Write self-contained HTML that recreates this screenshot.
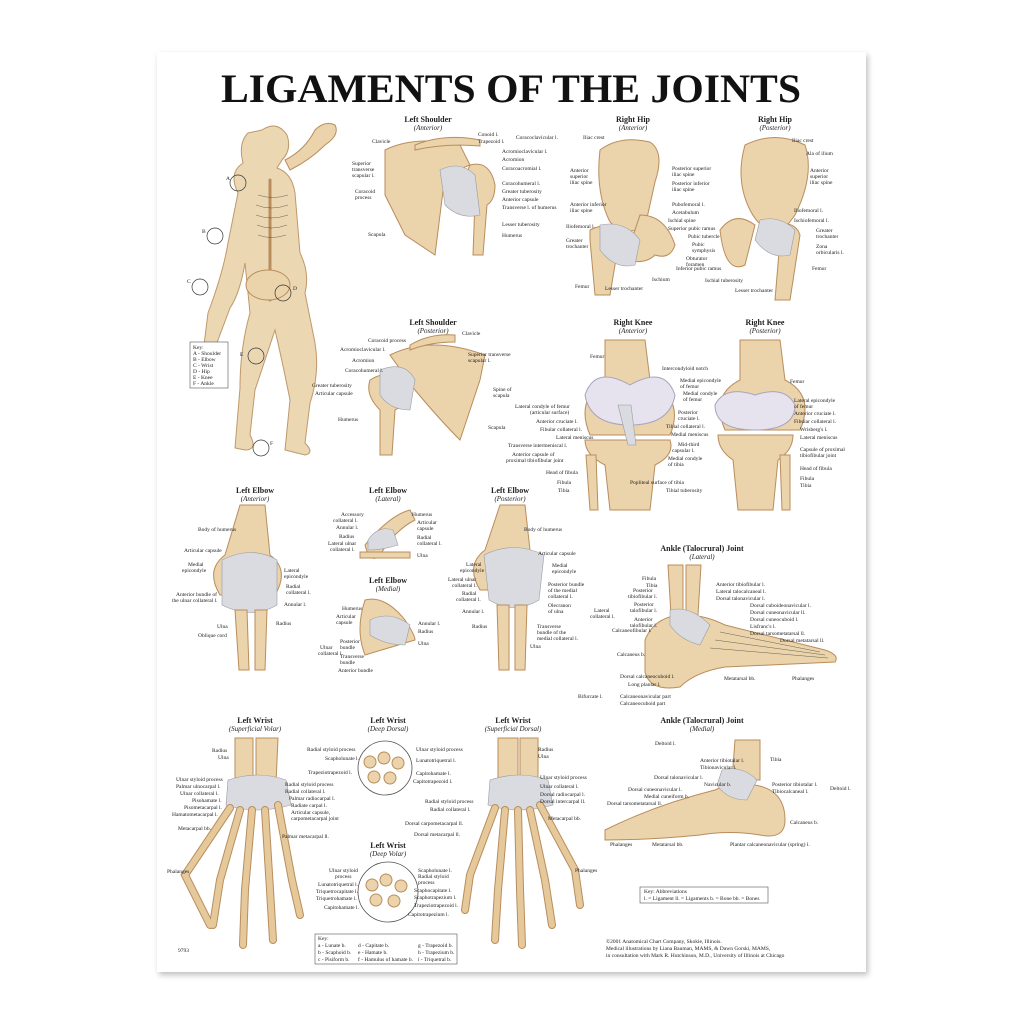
<!DOCTYPE html>
<html><head><meta charset="utf-8"><style>
html,body{margin:0;padding:0;background:#fff;}
svg{display:block}
text{font-family:"Liberation Serif",serif;fill:#222}
.h{font-weight:bold;font-size:8px;text-anchor:middle}
.s{font-style:italic;font-size:7px;text-anchor:middle}
.l{font-size:5.5px}
.b{fill:#ebd3ab;stroke:#b98d5c;stroke-width:1}
.g{fill:#d9dbe0;stroke:#9a9ca4;stroke-width:.6}
.ln{stroke:#444;stroke-width:.4;fill:none}
.f{stroke:#e6c99b;stroke-linecap:round;fill:none}
.fo{stroke:#b98d5c;stroke-linecap:round;fill:none}
</style></head><body>
<svg width="1024" height="1024" viewBox="0 0 1024 1024">
<defs><filter id="sh" x="-5%" y="-5%" width="110%" height="110%"><feDropShadow dx="2" dy="3" stdDeviation="3" flood-color="#000" flood-opacity=".25"/></filter></defs>
<rect x="157" y="52" width="709" height="920" fill="#fff" filter="url(#sh)"/>
<text x="511" y="102" text-anchor="middle" font-size="40" font-weight="bold" textLength="580" lengthAdjust="spacingAndGlyphs" style="fill:#111">LIGAMENTS OF THE JOINTS</text>

<!-- skeleton figure -->
<g>
<path class="b" d="M262 130 q15-10 25 5 q5 15-5 25 l-5 8 q15 5 18 25 l5 60 q10 20 5 40 l10 50 q5 30 -5 60 l-5 40 q10 10 0 12 l-20 -5 l5-50 q-8-40 -15-70 q-10 30-20 60 l-5 45 q8 15-5 15 l-10-2 l5-60 q0-40 10-75 l-5-50 q-5 30-15 45 l-15 40 q-5 15-12 5 l5-40 q15-40 20-70 l10-50 q-10-20 5-30 q-5-20 5-30z" opacity=".9"/>
<path class="fo" stroke-width="3" d="M270 180 L270 300" stroke="#c49a63"/>
<path class="ln" d="M258 195 q15 5 30 0 M256 205 q15 6 32 0 M256 215 q15 6 32 0 M257 225 q14 6 30 0 M258 235 q13 5 28 0"/>
<ellipse class="b" cx="268" cy="285" rx="22" ry="15"/>
<path class="b" d="M285 160 q20-10 30-30 q10-10 20-5 q5 10-10 20 q-15 15-35 25z"/>
<circle cx="238" cy="183" r="8" fill="none" stroke="#333" stroke-width=".7"/><text x="226" y="180" class="l">A</text>
<circle cx="215" cy="236" r="8" fill="none" stroke="#333" stroke-width=".7"/><text x="202" y="233" class="l">B</text>
<circle cx="200" cy="287" r="8" fill="none" stroke="#333" stroke-width=".7"/><text x="187" y="283" class="l">C</text>
<circle cx="283" cy="293" r="8" fill="none" stroke="#333" stroke-width=".7"/><text x="293" y="290" class="l">D</text>
<circle cx="256" cy="356" r="8" fill="none" stroke="#333" stroke-width=".7"/><text x="240" y="356" class="l">E</text>
<circle cx="261" cy="448" r="8" fill="none" stroke="#333" stroke-width=".7"/><text x="270" y="445" class="l">F</text>
<rect x="190" y="342" width="38" height="46" fill="#fff" stroke="#333" stroke-width=".5"/>
<text x="193" y="349" class="l" font-size="4.5">Key:</text>
<text x="193" y="355" class="l" font-size="4">A - Shoulder</text><text x="193" y="361" class="l" font-size="4">B - Elbow</text><text x="193" y="367" class="l" font-size="4">C - Wrist</text><text x="193" y="373" class="l" font-size="4">D - Hip</text><text x="193" y="379" class="l" font-size="4">E - Knee</text><text x="193" y="385" class="l" font-size="4">F - Ankle</text>
</g>

<!-- Left shoulder anterior -->
<text x="428" y="122" class="h">Left Shoulder</text><text x="428" y="130" class="s">(Anterior)</text>
<path class="b" d="M385 150 q30-15 75-5 l10 20 l-25 10 l-10 80 l-30-20 l-20 -40z"/>
<path class="b" d="M470 165 q20-5 25 20 q0 15-8 20 l-4 50 h-10 l2-55 q-15-15-5-35z"/>
<path class="g" d="M440 170 q20-10 35 5 l5 40 q-20 5-35-10z"/>
<path class="b" d="M415 145 q30-12 65-5 l0 6 q-35 -3 -65 4z"/>
<text x="372" y="143" class="l">Clavicle</text><text x="352" y="165" class="l">Superior</text><text x="352" y="171" class="l">transverse</text><text x="352" y="177" class="l">scapular l.</text>
<text x="355" y="193" class="l">Coracoid</text><text x="355" y="199" class="l">process</text><text x="368" y="236" class="l">Scapula</text>
<text x="478" y="136" class="l">Conoid l.</text><text x="478" y="143" class="l">Trapezoid l.</text><text x="516" y="139" class="l">Coracoclavicular l.</text>
<text x="502" y="153" class="l">Acromioclavicular l.</text><text x="502" y="161" class="l">Acromion</text><text x="502" y="170" class="l">Coracoacromial l.</text>
<text x="502" y="185" class="l">Coracohumeral l.</text><text x="502" y="193" class="l">Greater tuberosity</text><text x="502" y="201" class="l">Anterior capsule</text><text x="502" y="209" class="l">Transverse l. of humerus</text>
<text x="502" y="226" class="l">Lesser tuberosity</text><text x="502" y="237" class="l">Humerus</text>

<!-- Right Hip anterior -->
<text x="633" y="122" class="h">Right Hip</text><text x="633" y="130" class="s">(Anterior)</text>
<path class="b" d="M600 150 q20-15 50-8 q15 10 5 40 l-10 45 q-20 10-35-5 q-15-30-10-72z"/>
<path class="b" d="M640 215 q25 0 35 30 q-5 15-20 10 q-10 10-30 5z"/>
<path class="b" d="M590 230 q20-10 30 5 l-10 60 l-15 0 l-5-55z"/>
<path class="g" d="M600 225 q25-5 40 15 l-5 25 q-20 5-35-15z"/>
<text x="583" y="139" class="l">Iliac crest</text><text x="570" y="172" class="l">Anterior</text><text x="570" y="178" class="l">superior</text><text x="570" y="184" class="l">iliac spine</text>
<text x="570" y="206" class="l">Anterior inferior</text><text x="570" y="212" class="l">iliac spine</text><text x="566" y="228" class="l">Iliofemoral l.</text>
<text x="566" y="242" class="l">Greater</text><text x="566" y="248" class="l">trochanter</text><text x="575" y="288" class="l">Femur</text><text x="605" y="290" class="l">Lesser trochanter</text>
<text x="672" y="170" class="l">Posterior superior</text><text x="672" y="176" class="l">iliac spine</text><text x="672" y="185" class="l">Posterior inferior</text><text x="672" y="191" class="l">iliac spine</text>
<text x="672" y="206" class="l">Pubofemoral l.</text><text x="672" y="214" class="l">Acetabulum</text><text x="668" y="222" class="l">Ischial spine</text><text x="668" y="230" class="l">Superior pubic ramus</text>
<text x="688" y="238" class="l">Pubic tubercle</text><text x="692" y="246" class="l">Pubic</text><text x="692" y="252" class="l">symphysis</text><text x="686" y="260" class="l">Obturator</text><text x="686" y="266" class="l">foramen</text>
<text x="676" y="270" class="l">Inferior pubic ramus</text><text x="652" y="281" class="l">Ischium</text>

<!-- Right Hip posterior -->
<text x="775" y="122" class="h">Right Hip</text><text x="775" y="130" class="s">(Posterior)</text>
<path class="b" d="M745 145 q30-15 60 0 q10 30-10 70 l-15 20 q-20 -5 -30-25 q-15-30-5-65z"/>
<path class="b" d="M720 230 q15-20 35-5 l-10 40 q-20 10-25-35z"/>
<path class="b" d="M775 225 q20-5 25 10 l-10 65 h-15 l5-60z"/>
<path class="g" d="M760 220 q20-5 35 10 l-5 25 q-20 5-35-15z"/>
<text x="792" y="142" class="l">Iliac crest</text><text x="806" y="155" class="l">Ala of ilium</text><text x="810" y="172" class="l">Anterior</text><text x="810" y="178" class="l">superior</text><text x="810" y="184" class="l">iliac spine</text>
<text x="794" y="212" class="l">Iliofemoral l.</text><text x="794" y="222" class="l">Ischiofemoral l.</text><text x="816" y="232" class="l">Greater</text><text x="816" y="238" class="l">trochanter</text>
<text x="816" y="248" class="l">Zona</text><text x="816" y="254" class="l">orbicularis l.</text><text x="812" y="270" class="l">Femur</text>
<text x="705" y="282" class="l">Ischial tuberosity</text><text x="735" y="292" class="l">Lesser trochanter</text>

<!-- Left Shoulder posterior -->
<text x="433" y="325" class="h">Left Shoulder</text><text x="433" y="333" class="s">(Posterior)</text>
<path class="b" d="M390 355 q40-20 95 0 l-5 25 q-10 30-20 60 q-20-20-45-50z"/>
<path class="b" d="M370 380 q25-15 35 10 q0 15-10 20 l-3 45 h-12 l0-45 q-15-15-10-30z"/>
<path class="g" d="M380 370 q25-10 35 10 l-5 30 q-20 0-30-15z"/>
<path class="b" d="M410 345 q20-12 45-10 l0 7 q-25 0-45 8z"/>
<text x="368" y="342" class="l">Coracoid process</text><text x="340" y="351" class="l">Acromioclavicular l.</text><text x="352" y="362" class="l">Acromion</text><text x="345" y="372" class="l">Coracohumeral l.</text>
<text x="312" y="387" class="l">Greater tuberosity</text><text x="315" y="395" class="l">Articular capsule</text><text x="338" y="421" class="l">Humerus</text>
<text x="462" y="335" class="l">Clavicle</text><text x="468" y="356" class="l">Superior transverse</text><text x="468" y="362" class="l">scapular l.</text>
<text x="493" y="391" class="l">Spine of</text><text x="493" y="397" class="l">scapula</text><text x="488" y="429" class="l">Scapula</text>

<!-- Right Knee anterior -->
<text x="633" y="325" class="h">Right Knee</text><text x="633" y="333" class="s">(Anterior)</text>
<path class="b" d="M605 340 h40 l5 40 q35 20 20 55 l-80 0 q-15-35 15-55z"/>
<path d="M585 395 q10-30 45-10 q35-20 45 10 q-5 30-45 30 q-40 0-45-30z" fill="#e6e3ee" stroke="#a9a4bc"/>
<path class="b" d="M585 440 h85 q5 15-15 25 l-5 45 h-40 l-5-45 q-20-10-20-25z"/>
<path class="b" d="M586 455 h10 l2 55 h-8z"/>
<path class="g" d="M618 405 l10 40 h8 l-5-40z"/>
<text x="590" y="358" class="l">Femur</text><text x="515" y="408" class="l">Lateral condyle of femur</text><text x="530" y="414" class="l">(articular surface)</text>
<text x="536" y="423" class="l">Anterior cruciate l.</text><text x="540" y="431" class="l">Fibular collateral l.</text><text x="556" y="439" class="l">Lateral meniscus</text>
<text x="508" y="447" class="l">Transverse intermeniscal l.</text><text x="512" y="456" class="l">Anterior capsule of</text><text x="506" y="462" class="l">proximal tibiofibular joint</text>
<text x="546" y="474" class="l">Head of fibula</text><text x="557" y="484" class="l">Fibula</text><text x="558" y="492" class="l">Tibia</text>
<text x="662" y="370" class="l">Intercondyloid notch</text><text x="680" y="382" class="l">Medial epicondyle</text><text x="680" y="388" class="l">of femur</text><text x="683" y="395" class="l">Medial condyle</text><text x="683" y="401" class="l">of femur</text>
<text x="678" y="414" class="l">Posterior</text><text x="678" y="420" class="l">cruciate l.</text><text x="666" y="428" class="l">Tibial collateral l.</text><text x="671" y="436" class="l">Medial meniscus</text>
<text x="678" y="446" class="l">Mid-third</text><text x="672" y="452" class="l">capsular l.</text><text x="668" y="460" class="l">Medial condyle</text><text x="668" y="466" class="l">of tibia</text>
<text x="630" y="484" class="l">Popliteal surface of tibia</text><text x="666" y="492" class="l">Tibial tuberosity</text>

<!-- Right Knee posterior -->
<text x="765" y="325" class="h">Right Knee</text><text x="765" y="333" class="s">(Posterior)</text>
<path class="b" d="M740 340 h40 l5 40 q30 15 15 50 h-75 q-15-35 15-50z"/>
<path d="M715 405 q10-20 40-10 q30-10 40 10 q0 25-40 25 q-40 0-40-25z" fill="#e6e3ee" stroke="#a9a4bc"/>
<path class="b" d="M718 435 h75 q0 15-15 25 l-5 50 h-35 l-5-50 q-15-10-15-25z"/>
<path class="b" d="M780 455 h10 l0 55 h-8z"/>
<text x="790" y="383" class="l">Femur</text><text x="794" y="402" class="l">Lateral epicondyle</text><text x="794" y="408" class="l">of femur</text><text x="794" y="415" class="l">Anterior cruciate l.</text>
<text x="794" y="423" class="l">Fibular collateral l.</text><text x="800" y="431" class="l">Wrisberg's l.</text><text x="800" y="439" class="l">Lateral meniscus</text>
<text x="800" y="451" class="l">Capsule of proximal</text><text x="800" y="457" class="l">tibiofibular joint</text><text x="800" y="470" class="l">Head of fibula</text><text x="800" y="480" class="l">Fibula</text><text x="800" y="487" class="l">Tibia</text>

<!-- Left Elbow anterior -->
<text x="255" y="493" class="h">Left Elbow</text><text x="255" y="501" class="s">(Anterior)</text>
<path class="b" d="M240 505 h25 l5 50 q20 15 5 40 h-55 q-15-25 5-40z"/>
<path class="g" d="M222 560 q30-15 55 0 l0 45 q-25 15-55 0z"/>
<path class="b" d="M235 610 h12 l2 60 h-10z M255 610 h12 l-2 60 h-10z"/>
<text x="198" y="531" class="l">Body of humerus</text><text x="184" y="552" class="l">Articular capsule</text><text x="188" y="566" class="l">Medial</text><text x="182" y="572" class="l">epicondyle</text>
<text x="176" y="596" class="l">Anterior bundle of</text><text x="172" y="602" class="l">the ulnar collateral l.</text><text x="217" y="628" class="l">Ulna</text><text x="198" y="637" class="l">Oblique cord</text>
<text x="284" y="572" class="l">Lateral</text><text x="284" y="578" class="l">epicondyle</text><text x="286" y="588" class="l">Radial</text><text x="286" y="594" class="l">collateral l.</text><text x="284" y="606" class="l">Annular l.</text><text x="276" y="625" class="l">Radius</text>

<!-- Left Elbow lateral -->
<text x="388" y="493" class="h">Left Elbow</text><text x="388" y="501" class="s">(Lateral)</text>
<path class="b" d="M365 545 q25-30 45-35 l5 10 q-20 10-35 35 q-10 10-15-10z"/>
<path class="g" d="M368 540 q10-15 25-10 l5 15 q-15 5-30 5z"/>
<path class="b" d="M360 552 h50 v6 h-50z"/>
<text x="341" y="516" class="l">Accessory</text><text x="333" y="522" class="l">collateral l.</text><text x="336" y="529" class="l">Annular l.</text><text x="339" y="538" class="l">Radius</text>
<text x="328" y="545" class="l">Lateral ulnar</text><text x="330" y="551" class="l">collateral l.</text>
<text x="412" y="516" class="l">Humerus</text><text x="417" y="524" class="l">Articular</text><text x="417" y="530" class="l">capsule</text><text x="417" y="539" class="l">Radial</text><text x="417" y="545" class="l">collateral l.</text><text x="417" y="557" class="l">Ulna</text>

<!-- Left Elbow medial -->
<text x="388" y="583" class="h">Left Elbow</text><text x="388" y="591" class="s">(Medial)</text>
<path class="b" d="M365 600 q20-5 40 20 q10 15 10 20 l-50 15 q-10-25 0-55z"/>
<path class="g" d="M370 620 q20-10 40 5 l-5 20 q-20 0-35-10z"/>
<text x="342" y="610" class="l">Humerus</text><text x="336" y="618" class="l">Articular</text><text x="336" y="624" class="l">capsule</text>
<text x="320" y="649" class="l">Ulnar</text><text x="318" y="655" class="l">collateral l.</text><text x="340" y="643" class="l">Posterior</text><text x="340" y="649" class="l">bundle</text>
<text x="340" y="658" class="l">Transverse</text><text x="340" y="664" class="l">bundle</text><text x="338" y="672" class="l">Anterior bundle</text>
<text x="418" y="625" class="l">Annular l.</text><text x="418" y="633" class="l">Radius</text><text x="418" y="645" class="l">Ulna</text>

<!-- Left Elbow posterior -->
<text x="510" y="493" class="h">Left Elbow</text><text x="510" y="501" class="s">(Posterior)</text>
<path class="b" d="M500 505 h25 l5 45 q20 15 5 40 h-55 q-15-25 5-40z"/>
<path class="g" d="M484 555 q30-15 60 0 l-5 45 q-25 15-50 0z"/>
<path class="b" d="M497 605 h12 l0 65 h-10z M515 605 h12 l-2 65 h-10z"/>
<text x="524" y="531" class="l">Body of humerus</text><text x="538" y="555" class="l">Articular capsule</text><text x="552" y="567" class="l">Medial</text><text x="552" y="573" class="l">epicondyle</text>
<text x="548" y="586" class="l">Posterior bundle</text><text x="548" y="592" class="l">of the medial</text><text x="548" y="598" class="l">collateral l.</text><text x="548" y="607" class="l">Olecranon</text><text x="548" y="613" class="l">of ulna</text>
<text x="537" y="628" class="l">Transverse</text><text x="537" y="634" class="l">bundle of the</text><text x="537" y="640" class="l">medial collateral l.</text><text x="530" y="648" class="l">Ulna</text>
<text x="466" y="566" class="l">Lateral</text><text x="460" y="572" class="l">epicondyle</text><text x="448" y="581" class="l">Lateral ulnar</text><text x="452" y="587" class="l">collateral l.</text>
<text x="462" y="595" class="l">Radial</text><text x="456" y="601" class="l">collateral l.</text><text x="462" y="613" class="l">Annular l.</text><text x="472" y="628" class="l">Radius</text>

<!-- Ankle lateral -->
<text x="702" y="551" class="h">Ankle (Talocrural) Joint</text><text x="702" y="559" class="s">(Lateral)</text>
<path class="b" d="M668 565 h15 l0 50 h-12z M686 565 h15 l-3 50 h-12z"/>
<path class="b" d="M645 640 q10-25 40-25 q20 0 40 10 l100 25 q15 5 10 12 l-110 5 q-30 5-45 20 q-30 5-35-15 z"/>
<path class="g" d="M670 610 q20 -5 40 15 l-10 20 q-20-5-30-20z"/>
<path class="ln" d="M720 632 l100 20 M715 640 l110 15 M710 648 l118 10"/>
<text x="642" y="580" class="l">Fibula</text><text x="646" y="587" class="l">Tibia</text><text x="633" y="592" class="l">Posterior</text><text x="628" y="598" class="l">tibiofibular l.</text>
<text x="594" y="612" class="l">Lateral</text><text x="590" y="618" class="l">collateral l.</text><text x="634" y="606" class="l">Posterior</text><text x="630" y="612" class="l">talofibular l.</text>
<text x="634" y="621" class="l">Anterior</text><text x="630" y="627" class="l">talofibular l.</text><text x="612" y="632" class="l">Calcaneofibular l.</text>
<text x="617" y="656" class="l">Calcaneus b.</text><text x="620" y="678" class="l">Dorsal calcaneocuboid l.</text><text x="628" y="686" class="l">Long plantar l.</text>
<text x="578" y="698" class="l">Bifurcate l.</text><text x="620" y="698" class="l">Calcaneonavicular part</text><text x="620" y="705" class="l">Calcaneocuboid part</text>
<text x="716" y="586" class="l">Anterior tibiofibular l.</text><text x="716" y="593" class="l">Lateral talocalcaneal l.</text><text x="716" y="600" class="l">Dorsal talonavicular l.</text>
<text x="750" y="607" class="l">Dorsal cuboideonavicular l.</text><text x="750" y="614" class="l">Dorsal cuneonavicular ll.</text><text x="750" y="621" class="l">Dorsal cuneocuboid l.</text>
<text x="750" y="628" class="l">Lisfranc's l.</text><text x="750" y="635" class="l">Dorsal tarsometatarsal ll.</text><text x="780" y="642" class="l">Dorsal metatarsal ll.</text>
<text x="724" y="680" class="l">Metatarsal bb.</text><text x="792" y="680" class="l">Phalanges</text>

<!-- Ankle medial -->
<text x="702" y="723" class="h">Ankle (Talocrural) Joint</text><text x="702" y="731" class="s">(Medial)</text>
<path class="b" d="M735 740 h25 l0 40 h-28z"/>
<path class="b" d="M605 830 q50-25 110-40 q20-10 40-5 q30 5 30 35 q0 20-25 15 q-30-5-60 0 q-50 5-95 5z"/>
<path class="g" d="M722 770 q20-5 35 10 l-10 20 q-20 0-30-15z"/>
<text x="655" y="745" class="l">Deltoid l.</text><text x="700" y="762" class="l">Anterior tibiotalar l.</text><text x="700" y="769" class="l">Tibionavicular l.</text>
<text x="654" y="779" class="l">Dorsal talonavicular l.</text><text x="704" y="786" class="l">Navicular b.</text><text x="628" y="791" class="l">Dorsal cuneonavicular l.</text>
<text x="644" y="798" class="l">Medial cuneiform b.</text><text x="607" y="805" class="l">Dorsal tarsometatarsal ll.</text>
<text x="770" y="761" class="l">Tibia</text><text x="772" y="786" class="l">Posterior tibiotalar l.</text><text x="772" y="793" class="l">Tibiocalcaneal l.</text><text x="830" y="790" class="l">Deltoid l.</text>
<text x="790" y="824" class="l">Calcaneus b.</text><text x="610" y="846" class="l">Phalanges</text><text x="652" y="846" class="l">Metatarsal bb.</text><text x="730" y="846" class="l">Plantar calcaneonavicular (spring) l.</text>

<!-- Wrist superficial volar -->
<text x="255" y="723" class="h">Left Wrist</text><text x="255" y="731" class="s">(Superficial Volar)</text>
<path class="b" d="M235 738 h18 v45 h-18z M256 738 h22 l-2 45 h-20z"/>
<path class="g" d="M228 780 q30-10 58 0 l5 25 q-35 10-65 0z"/>
<g class="fo" stroke-width="8"><path d="M230 808 L185 875 L210 925"/><path d="M240 810 L220 880 L213 925"/><path d="M252 810 L245 890 L243 945"/><path d="M265 810 L270 890 L273 940"/><path d="M278 805 L292 880 L300 915"/></g>
<g class="f" stroke-width="6"><path d="M230 808 L185 875 L210 925"/><path d="M240 810 L220 880 L213 925"/><path d="M252 810 L245 890 L243 945"/><path d="M265 810 L270 890 L273 940"/><path d="M278 805 L292 880 L300 915"/></g>
<text x="212" y="752" class="l">Radius</text><text x="218" y="759" class="l">Ulna</text><text x="176" y="781" class="l">Ulnar styloid process</text><text x="176" y="788" class="l">Palmar ulnocarpal l.</text>
<text x="180" y="795" class="l">Ulnar collateral l.</text><text x="192" y="802" class="l">Pisohamate l.</text><text x="184" y="809" class="l">Pisometacarpal l.</text><text x="172" y="816" class="l">Hamatometacarpal l.</text>
<text x="178" y="830" class="l">Metacarpal bb.</text><text x="167" y="873" class="l">Phalanges</text>
<text x="285" y="786" class="l">Radial styloid process</text><text x="285" y="793" class="l">Radial collateral l.</text><text x="289" y="800" class="l">Palmar radiocarpal l.</text>
<text x="291" y="807" class="l">Radiate carpal l.</text><text x="291" y="814" class="l">Articular capsule,</text><text x="291" y="820" class="l">carpometacarpal joint</text><text x="282" y="838" class="l">Palmar metacarpal ll.</text>

<!-- Wrist deep dorsal -->
<text x="388" y="723" class="h">Left Wrist</text><text x="388" y="731" class="s">(Deep Dorsal)</text>
<circle cx="385" cy="768" r="27" fill="#fff" stroke="#555" stroke-width=".8"/>
<g class="b"><circle cx="370" cy="762" r="6"/><circle cx="384" cy="758" r="6"/><circle cx="398" cy="763" r="6"/><circle cx="374" cy="777" r="6"/><circle cx="390" cy="778" r="6"/></g>
<text x="307" y="751" class="l">Radial styloid process</text><text x="325" y="760" class="l">Scapholunate l.</text><text x="308" y="774" class="l">Trapeziotrapezoid l.</text>
<text x="416" y="751" class="l">Ulnar styloid process</text><text x="416" y="762" class="l">Lunatotriquetral l.</text><text x="416" y="775" class="l">Capitohamate l.</text><text x="413" y="783" class="l">Capitotrapezoid l.</text>

<!-- Wrist deep volar -->
<text x="388" y="848" class="h">Left Wrist</text><text x="388" y="856" class="s">(Deep Volar)</text>
<circle cx="388" cy="892" r="30" fill="#fff" stroke="#555" stroke-width=".8"/>
<g class="b"><circle cx="372" cy="885" r="6"/><circle cx="386" cy="880" r="6"/><circle cx="401" cy="886" r="6"/><circle cx="376" cy="900" r="6"/><circle cx="394" cy="901" r="6"/></g>
<text x="329" y="872" class="l">Ulnar styloid</text><text x="335" y="878" class="l">process</text><text x="318" y="886" class="l">Lunatotriquetral l.</text>
<text x="316" y="893" class="l">Triquetrocapitate l.</text><text x="316" y="900" class="l">Triquetrohamate l.</text><text x="324" y="909" class="l">Capitohamate l.</text>
<text x="418" y="872" class="l">Scapholunate l.</text><text x="418" y="878" class="l">Radial styloid</text><text x="418" y="884" class="l">process</text>
<text x="414" y="892" class="l">Scaphocapitate l.</text><text x="414" y="899" class="l">Scaphotrapezium l.</text><text x="414" y="907" class="l">Trapeziotrapezoid l.</text><text x="408" y="916" class="l">Capitotrapezium l.</text>

<!-- Wrist superficial dorsal -->
<text x="513" y="723" class="h">Left Wrist</text><text x="513" y="731" class="s">(Superficial Dorsal)</text>
<path class="b" d="M498 738 h20 v45 h-20z M520 738 h18 l0 45 h-18z"/>
<path class="g" d="M490 780 q30-10 58 0 l5 25 q-35 10-65 0z"/>
<g class="fo" stroke-width="8"><path d="M495 808 L470 875 L465 910"/><path d="M505 810 L498 890 L495 940"/><path d="M518 810 L520 890 L522 945"/><path d="M530 810 L545 880 L552 925"/><path d="M540 805 L575 870 L580 905"/></g>
<g class="f" stroke-width="6"><path d="M495 808 L470 875 L465 910"/><path d="M505 810 L498 890 L495 940"/><path d="M518 810 L520 890 L522 945"/><path d="M530 810 L545 880 L552 925"/><path d="M540 805 L575 870 L580 905"/></g>
<text x="538" y="751" class="l">Radius</text><text x="538" y="758" class="l">Ulna</text><text x="540" y="779" class="l">Ulnar styloid process</text><text x="540" y="788" class="l">Ulnar collateral l.</text>
<text x="540" y="796" class="l">Dorsal radiocarpal l.</text><text x="540" y="803" class="l">Dorsal intercarpal ll.</text><text x="548" y="820" class="l">Metacarpal bb.</text><text x="575" y="872" class="l">Phalanges</text>
<text x="425" y="803" class="l">Radial styloid process</text><text x="430" y="811" class="l">Radial collateral l.</text><text x="405" y="825" class="l">Dorsal carpometacarpal ll.</text><text x="414" y="836" class="l">Dorsal metacarpal ll.</text>

<!-- keys -->
<rect x="640" y="887" width="128" height="16" fill="#fff" stroke="#333" stroke-width=".5"/>
<text x="644" y="893" class="l" font-size="4.5">Key: Abbreviations</text>
<text x="644" y="900" class="l" font-size="4.2">l. = Ligament   ll. = Ligaments   b. = Bone   bb. = Bones</text>
<rect x="315" y="934" width="142" height="30" fill="#fff" stroke="#333" stroke-width=".5"/>
<text x="318" y="940" class="l" font-size="4.5">Key:</text>
<text x="318" y="947" class="l" font-size="4">a - Lunate b.</text><text x="358" y="947" class="l" font-size="4">d - Capitate b.</text><text x="418" y="947" class="l" font-size="4">g - Trapezoid b.</text>
<text x="318" y="954" class="l" font-size="4">b - Scaphoid b.</text><text x="358" y="954" class="l" font-size="4">e - Hamate b.</text><text x="418" y="954" class="l" font-size="4">h - Trapezium b.</text>
<text x="318" y="961" class="l" font-size="4">c - Pisiform b.</text><text x="358" y="961" class="l" font-size="4">f - Hamulus of hamate b.</text><text x="418" y="961" class="l" font-size="4">i - Triquetral b.</text>
<text x="178" y="952" class="l" font-size="4.5">9793</text>
<text x="606" y="943" class="l">©2001 Anatomical Chart Company, Skokie, Illinois.</text>
<text x="606" y="950" class="l">Medical illustrations by Liana Bauman, MAMS, &amp; Dawn Gorski, MAMS,</text>
<text x="606" y="957" class="l">in consultation with Mark R. Hutchinson, M.D., University of Illinois at Chicago</text>
</svg>
</body></html>
